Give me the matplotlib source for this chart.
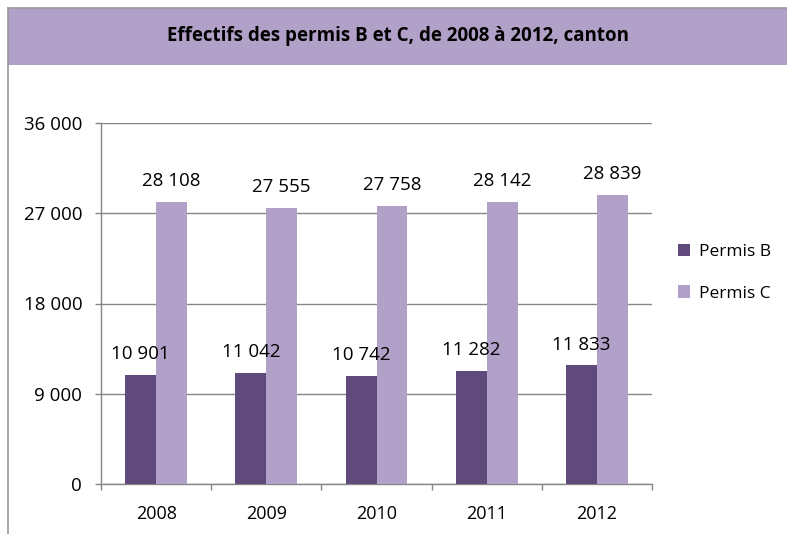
import numpy as np
import matplotlib.pyplot as plt
from matplotlib.patches import Rectangle
from matplotlib.lines import Line2D

years = ["2008", "2009", "2010", "2011", "2012"]
permis_b = [10901, 11042, 10742, 11282, 11833]
permis_c = [28108, 27555, 27758, 28142, 28839]
y_ticks = [0, 9000, 18000, 27000, 36000]
y_tick_labels = ["0", "9 000", "18 000", "27 000", "36 000"]
title = "Effectifs des permis B et C, de 2008 à 2012, canton"

dark = "#604A7B"
light = "#B1A0C7"
grid_col = "#868686"

plt.rcParams.update({'font.family': ['Open Sans', 'DejaVu Sans'], 'font.size': 13})

fig = plt.figure(figsize=(7.87, 5.34), dpi=100)

# header band and frame lines
fig.add_artist(Rectangle((8 / 787, 1 - 65 / 534), 1 - 8 / 787, 57 / 534,
                         transform=fig.transFigure, facecolor=light, edgecolor="none"))
fig.add_artist(Line2D([8 / 787, 1], [1 - 8 / 534, 1 - 8 / 534], transform=fig.transFigure,
                      color="#9a9a9a", lw=1.2))
fig.add_artist(Line2D([8 / 787, 8 / 787], [0, 1 - 8 / 534], transform=fig.transFigure,
                      color="#9a9a9a", lw=1.2))
fig.text((8 + 787) / 2 / 787, 1 - 36.5 / 534, title, ha="center", va="center",
         fontsize=13.5, fontweight="bold")

ax = fig.add_axes([101 / 787, 1 - 484 / 534, 551 / 787, 361 / 534])
x = np.arange(len(years))
w = 0.28
bars_b = ax.bar(x - w / 2, permis_b, w, color=dark, label="Permis B", zorder=3)
bars_c = ax.bar(x + w / 2, permis_c, w, color=light, label="Permis C", zorder=3)

for bars, vals in ((bars_b, permis_b), (bars_c, permis_c)):
    for b, v in zip(bars, vals):
        s = f"{v:,}".replace(",", " ")
        ax.annotate(s, (b.get_x() + b.get_width() / 2, v), xytext=(0, 15),
                    textcoords="offset points", ha="center", va="center", fontsize=13.5)

ax.set_xlim(-0.5, len(years) - 0.5)
ax.set_ylim(0, 36000)
ax.set_yticks(y_ticks)
ax.set_yticklabels(y_tick_labels, fontsize=13.5)
ax.set_xticks(x)
ax.set_xticklabels(years, fontsize=13)
ax.set_xticks(np.arange(len(years) + 1) - 0.5, minor=True)
ax.tick_params(axis="x", which="major", length=0, pad=15)
ax.tick_params(axis="x", which="minor", length=4.5, color=grid_col, width=1)
ax.tick_params(axis="y", length=4.5, color=grid_col, width=1, pad=9)
ax.grid(axis="y", color=grid_col, lw=1, zorder=0)
for side in ("top", "right"):
    ax.spines[side].set_visible(False)
for side in ("left", "bottom"):
    ax.spines[side].set_color(grid_col)
    ax.spines[side].set_linewidth(1)

ax.legend(loc="center left", bbox_to_anchor=(1.035, 0.585), frameon=False, fontsize=12.5,
          handlelength=0.7, handleheight=0.7, labelspacing=1.45, handletextpad=0.5,
          borderaxespad=0)

fig.savefig("out.png", dpi=100)
